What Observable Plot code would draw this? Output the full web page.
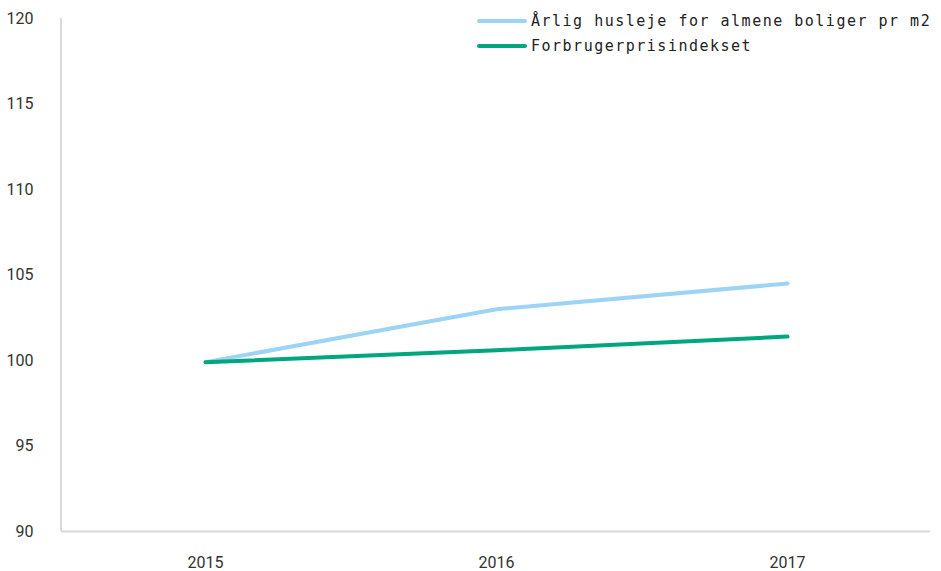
<!DOCTYPE html>
<html><head><meta charset="utf-8">
<script src="https://cdn.jsdelivr.net/npm/d3@7"></script>
<script src="https://cdn.jsdelivr.net/npm/@observablehq/plot@0.6"></script>
<style>
body{margin:0;background:#fff;}
#wrap{position:relative;width:941px;height:571px;}
#legend{position:absolute;left:477px;top:8px;font-family:"DejaVu Sans Mono",monospace;font-size:15px;letter-spacing:1.5px;color:#222;}
.row{display:flex;align-items:center;height:25px;}
.sw{width:50px;height:4px;border-radius:2px;margin-right:4px;}
</style></head><body>
<div id="wrap"><div id="legend"></div></div>
<script>
const years = ["2015","2016","2017"];
const seriesNames = ["Årlig husleje for almene boliger pr m2","Forbrugerprisindekset"];
const husleje = [99.9, 103.0, 104.5];
const fpi = [99.9, 100.6, 101.4];
const colors = ["#9dd3f5","#00a67e"];
const yTicks = [90,95,100,105,110,115,120];

const data = [];
years.forEach((y,i)=>{
  data.push({year:y, value:husleje[i], series:seriesNames[0]});
  data.push({year:y, value:fpi[i], series:seriesNames[1]});
});

const chart = Plot.plot({
  width:941, height:571,
  marginLeft:61, marginRight:11, marginTop:18, marginBottom:40,
  style:{fontFamily:"Roboto, sans-serif", fontSize:"16px", color:"#333", background:"#fff"},
  x:{type:"point", domain:years, padding:0.49, label:null},
  y:{domain:[90,120], ticks:yTicks, label:null},
  color:{domain:seriesNames, range:colors},
  marks:[
    Plot.axisY({ticks:yTicks, tickSize:0, tickPadding:28, fontSize:16, label:null}),
    Plot.axisX({tickSize:0, tickPadding:25, fontSize:16, label:null}),
    Plot.ruleY([90],{stroke:"#d9d9d9", strokeWidth:2}),
    Plot.line(data,{x:"year", y:"value", z:"series", stroke:"series", strokeWidth:4, strokeLinecap:"round"})
  ]
});
const svg = d3.select(chart);
svg.append("line").attr("x1",61).attr("x2",61).attr("y1",18).attr("y2",531).attr("stroke","#d9d9d9").attr("stroke-width",2);
document.getElementById("wrap").prepend(chart);

const lg = document.getElementById("legend");
seriesNames.forEach((n,i)=>{
  const r=document.createElement("div"); r.className="row";
  r.innerHTML=`<div class="sw" style="background:${colors[i]}"></div><span>${n}</span>`;
  lg.appendChild(r);
});
</script></body></html>
